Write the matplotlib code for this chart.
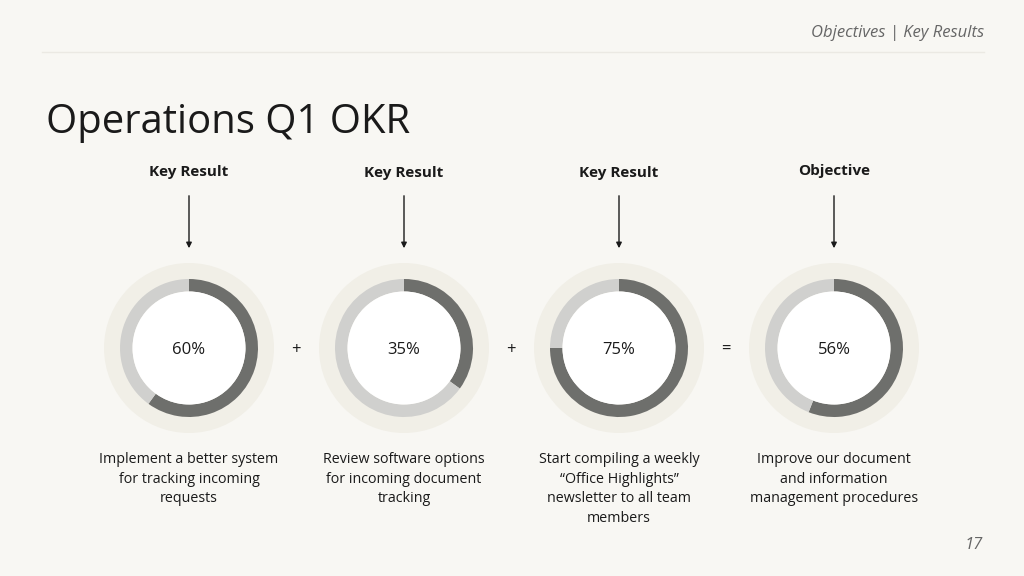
import matplotlib.pyplot as plt
from matplotlib.patches import Wedge, Circle

plt.rcParams['font.family'] = ['Open Sans', 'DejaVu Sans']

W, H = 1024, 576
headers = ["Key Result", "Key Result", "Key Result", "Objective"]
header_y = [172, 173, 173, 171]
percents = [60, 35, 75, 56]
descriptions = [
    "Implement a better system\nfor tracking incoming\nrequests",
    "Review software options\nfor incoming document\ntracking",
    "Start compiling a weekly\n\u201cOffice Highlights\u201d\nnewsletter to all team\nmembers",
    "Improve our document\nand information\nmanagement procedures",
]
operators = ["+", "+", "="]

bg = "#f8f7f3"
halo = "#f1efe7"
dark = "#6e6f6c"
light = "#d0d0ce"

fig = plt.figure(figsize=(W / 100, H / 100), dpi=100, facecolor=bg)
ax = fig.add_axes([0, 0, 1, 1])
ax.set_xlim(0, W)
ax.set_ylim(0, H)
ax.set_aspect("equal")
ax.axis("off")


def Y(y):
    return H - y


# header
ax.text(984, Y(33), "Objectives | Key Results", ha="right", va="center",
        fontsize=12, style="italic", color="#666666")
ax.plot([42, 984], [Y(52), Y(52)], color="#ebe9e3", lw=1)
ax.text(46, Y(123), "Operations Q1 OKR", ha="left", va="center",
        fontsize=28.8, color="#1a1a1a")

xs = [189, 404, 619, 834]
cy = 348
for i, (x, p) in enumerate(zip(xs, percents)):
    ax.text(x, Y(header_y[i]), headers[i], ha="center", va="center", fontsize=11,
            fontweight="bold", color="#1a1a1a")
    ax.annotate("", xy=(x, Y(251)), xytext=(x, Y(193)),
                arrowprops=dict(arrowstyle="-|>", color="#1a1a1a", lw=1,
                                mutation_scale=8))
    ax.add_patch(Circle((x, Y(cy)), 85, color=halo, lw=0))
    a = 360 * p / 100
    ax.add_patch(Wedge((x, Y(cy)), 69, 90 - a, 90, width=12.5, color=dark, lw=0))
    ax.add_patch(Wedge((x, Y(cy)), 69, 90, 450 - a, width=12.5, color=light, lw=0))
    ax.add_patch(Circle((x, Y(cy)), 56.5, color="white", lw=0))
    ax.text(x, Y(cy + 2), f"{p}%", ha="center", va="center", fontsize=12,
            color="#1a1a1a")
    ax.text(x, Y(452), descriptions[i], ha="center", va="top", fontsize=10.3,
            color="#1a1a1a", linespacing=1.43)

for i, op in enumerate(operators):
    ax.text((xs[i] + xs[i + 1]) / 2 - 0.5, Y(cy + 2), op, ha="center",
            va="center", fontsize=12, color="#1a1a1a")

ax.text(983, Y(545), "17", ha="right", va="center", fontsize=12,
        style="italic", color="#666666")

fig.savefig("out.png", dpi=100, facecolor=bg)
